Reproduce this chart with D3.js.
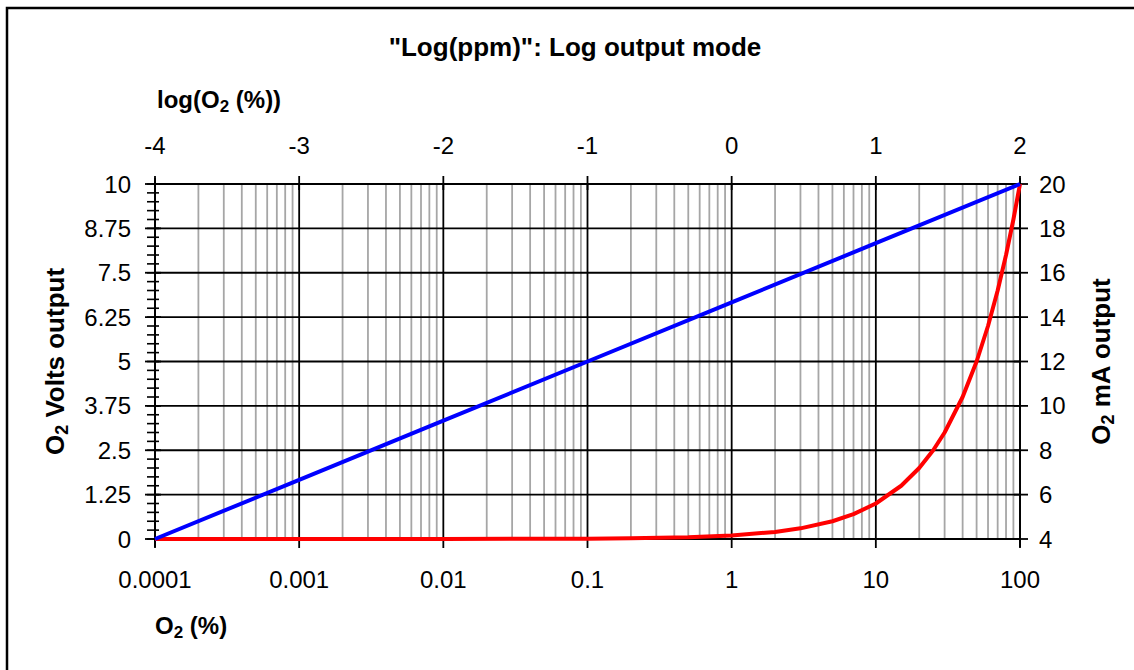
<!DOCTYPE html>
<html>
<head>
<meta charset="utf-8">
<title>Log output mode</title>
<script src="https://d3js.org/d3.v7.min.js"></script>
<style>
  body { margin: 0; background: #fff; }
  text { font-family: "Liberation Sans", Arial, sans-serif; fill: #000; }
  .tick-label { font-size: 24px; }
  .axis-title { font-size: 24px; font-weight: bold; }
  .side-title { font-size: 26px; font-weight: bold; }
  .chart-title { font-size: 26px; font-weight: bold; }
</style>
</head>
<body>
<svg id="chart" width="1134" height="670"></svg>
<script>
// O2 (%) sample points and outputs
var blueO2 = [0.0001, 0.001, 0.01, 0.1, 1, 10, 100];
var blueVolts = [0, 1.667, 3.333, 5, 6.667, 8.333, 10];

var redO2 = [0.0001, 0.001, 0.01, 0.1, 0.2, 0.5, 1, 2, 3, 5, 7, 10, 15, 20, 25, 30, 40, 50, 60, 70, 80, 90, 100];
var redVolts = [0, 0, 0, 0.01, 0.02, 0.05, 0.1, 0.2, 0.3, 0.5, 0.7, 1.0, 1.5, 2.0, 2.5, 3.0, 4.0, 5.0, 6.0, 7.0, 8.0, 9.0, 10];

var bottomTicks = [0.0001, 0.001, 0.01, 0.1, 1, 10, 100];
var bottomLabels = ["0.0001", "0.001", "0.01", "0.1", "1", "10", "100"];
var topTicks = [-4, -3, -2, -1, 0, 1, 2];
var leftTicks = [0, 1.25, 2.5, 3.75, 5, 6.25, 7.5, 8.75, 10];
var rightTicks = [4, 6, 8, 10, 12, 14, 16, 18, 20];

var svg = d3.select("#chart");
var plot = { left: 155, right: 1020, top: 184, bottom: 539 };

var x = d3.scaleLog().domain([0.0001, 100]).range([plot.left, plot.right]);
var xTop = d3.scaleLinear().domain([-4, 2]).range([plot.left, plot.right]);
var y = d3.scaleLinear().domain([0, 10]).range([plot.bottom, plot.top]);
var yRight = d3.scaleLinear().domain([4, 20]).range([plot.bottom, plot.top]);

// outer frame
svg.append("rect")
  .attr("x", 7).attr("y", 8).attr("width", 1160).attr("height", 700)
  .attr("fill", "none").attr("stroke", "#000").attr("stroke-width", 2.5);

// minor vertical grid
var minor = [];
for (var e = -4; e < 2; e++) {
  for (var m = 2; m <= 9; m++) minor.push(m * Math.pow(10, e));
}
svg.append("g").selectAll("line").data(minor).join("line")
  .attr("x1", d => x(d)).attr("x2", d => x(d))
  .attr("y1", plot.top).attr("y2", plot.bottom)
  .attr("stroke", "#a6a6a6").attr("stroke-width", 1.8);

// major grid
svg.append("g").selectAll("line").data(bottomTicks).join("line")
  .attr("x1", d => x(d)).attr("x2", d => x(d))
  .attr("y1", plot.top).attr("y2", plot.bottom)
  .attr("stroke", "#000").attr("stroke-width", 1.8);
svg.append("g").selectAll("line").data(leftTicks).join("line")
  .attr("x1", plot.left).attr("x2", plot.right)
  .attr("y1", d => y(d)).attr("y2", d => y(d))
  .attr("stroke", "#000").attr("stroke-width", 1.8);

// left axis: major + minor cross ticks
var leftMinor = d3.range(0, 10.001, 0.25);
svg.append("g").selectAll("line").data(leftMinor).join("line")
  .attr("x1", plot.left - 8).attr("x2", plot.left + 4)
  .attr("y1", d => y(d)).attr("y2", d => y(d))
  .attr("stroke", "#000").attr("stroke-width", 1.6);
svg.append("g").selectAll("line").data(leftTicks).join("line")
  .attr("x1", plot.left - 10).attr("x2", plot.left + 6)
  .attr("y1", d => y(d)).attr("y2", d => y(d))
  .attr("stroke", "#000").attr("stroke-width", 1.8);
svg.append("line")
  .attr("x1", plot.left).attr("x2", plot.left)
  .attr("y1", plot.top - 6).attr("y2", plot.bottom + 8)
  .attr("stroke", "#000").attr("stroke-width", 1.8);
svg.append("g").selectAll("text").data(leftTicks).join("text")
  .attr("class", "tick-label")
  .attr("x", 131).attr("y", d => y(d) + 8.5)
  .attr("text-anchor", "end")
  .text(d => d);

// right axis
svg.append("line")
  .attr("x1", plot.right).attr("x2", plot.right)
  .attr("y1", plot.top - 6).attr("y2", plot.bottom + 8)
  .attr("stroke", "#000").attr("stroke-width", 1.8);
svg.append("g").selectAll("line").data(rightTicks).join("line")
  .attr("x1", plot.right - 6).attr("x2", plot.right + 8)
  .attr("y1", d => yRight(d)).attr("y2", d => yRight(d))
  .attr("stroke", "#000").attr("stroke-width", 1.8);
svg.append("g").selectAll("text").data(rightTicks).join("text")
  .attr("class", "tick-label")
  .attr("x", 1039).attr("y", d => yRight(d) + 8.5)
  .text(d => d);

// bottom axis
svg.append("g").selectAll("line").data(bottomTicks).join("line")
  .attr("x1", d => x(d)).attr("x2", d => x(d))
  .attr("y1", plot.bottom).attr("y2", plot.bottom + 9)
  .attr("stroke", "#000").attr("stroke-width", 1.8);
svg.append("g").selectAll("text").data(bottomTicks).join("text")
  .attr("class", "tick-label")
  .attr("x", d => x(d)).attr("y", 588)
  .attr("text-anchor", "middle")
  .text((d, i) => bottomLabels[i]);

// top axis
svg.append("line")
  .attr("x1", plot.left).attr("x2", plot.right)
  .attr("y1", plot.top).attr("y2", plot.top)
  .attr("stroke", "#000").attr("stroke-width", 1.8);
svg.append("g").selectAll("line").data(topTicks).join("line")
  .attr("x1", d => xTop(d)).attr("x2", d => xTop(d))
  .attr("y1", plot.top - 8).attr("y2", plot.top + 6)
  .attr("stroke", "#000").attr("stroke-width", 1.8);
svg.append("g").selectAll("text").data(topTicks).join("text")
  .attr("class", "tick-label")
  .attr("x", d => xTop(d)).attr("y", 154)
  .attr("text-anchor", "middle")
  .text(d => d);

// series
var line = d3.line().x(d => x(d[0])).y(d => y(d[1]));
svg.append("path")
  .datum(redO2.map((v, i) => [v, redVolts[i]]))
  .attr("d", line)
  .attr("fill", "none").attr("stroke", "#ff0000").attr("stroke-width", 4)
  .attr("stroke-linejoin", "round");
svg.append("path")
  .datum(blueO2.map((v, i) => [v, blueVolts[i]]))
  .attr("d", line)
  .attr("fill", "none").attr("stroke", "#0000ff").attr("stroke-width", 4)
  .attr("stroke-linejoin", "round");

// titles
svg.append("text")
  .attr("class", "chart-title")
  .attr("x", 575).attr("y", 56)
  .attr("text-anchor", "middle")
  .text('"Log(ppm)": Log output mode');

function o2Label(sel, rest, sub) {
  sel.append("tspan").text("O");
  sel.append("tspan").attr("font-size", sub).attr("dy", 4).text("2");
  sel.append("tspan").attr("dy", -4).text(rest);
}

var topTitle = svg.append("text").attr("class", "axis-title")
  .attr("x", 157).attr("y", 108);
topTitle.append("tspan").text("log(");
o2Label(topTitle, " (%))", "17px");

var bottomTitle = svg.append("text").attr("class", "axis-title")
  .attr("x", 155).attr("y", 634);
o2Label(bottomTitle, " (%)", "17px");

var leftTitle = svg.append("text").attr("class", "side-title")
  .attr("transform", "translate(64," + ((plot.top + plot.bottom) / 2) + ") rotate(-90)")
  .attr("text-anchor", "middle");
o2Label(leftTitle, " Volts output", "18px");

var rightTitle = svg.append("text").attr("class", "side-title")
  .attr("transform", "translate(1110," + ((plot.top + plot.bottom) / 2) + ") rotate(-90)")
  .attr("text-anchor", "middle");
o2Label(rightTitle, " mA output", "18px");
</script>
</body>
</html>
